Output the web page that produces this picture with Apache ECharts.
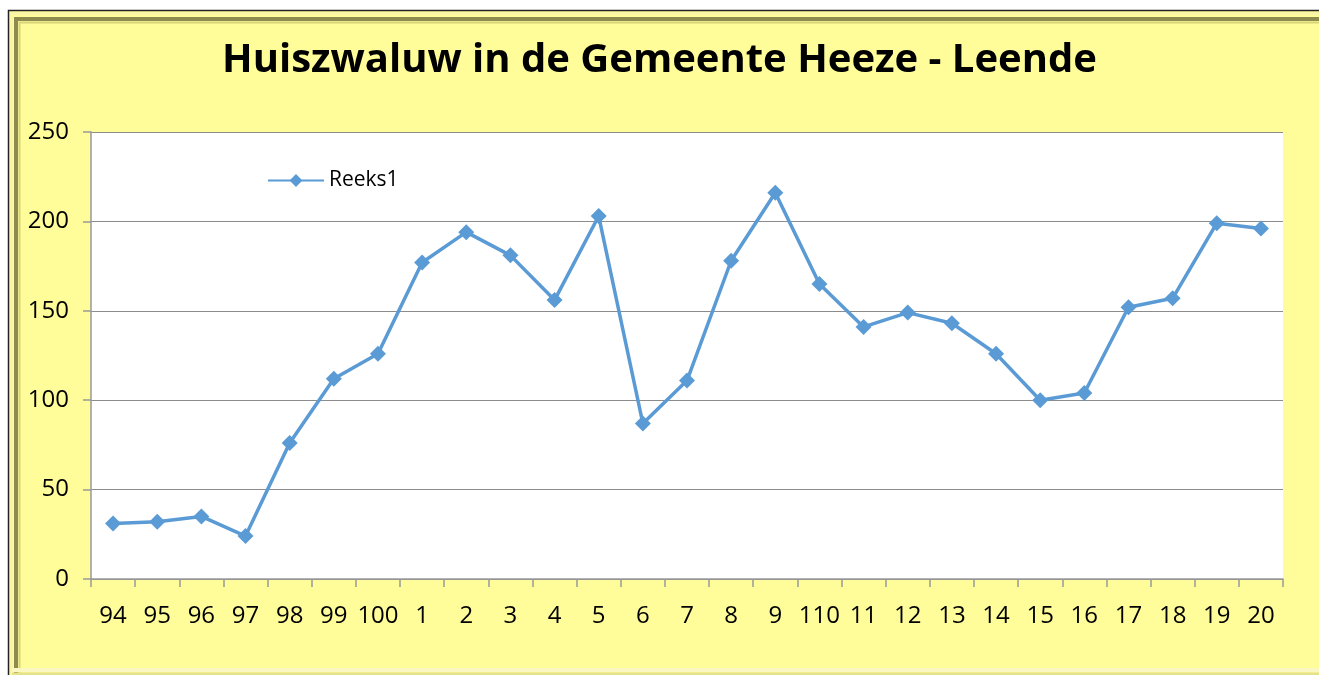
<!DOCTYPE html>
<html><head><meta charset="utf-8">
<script src="https://cdn.jsdelivr.net/npm/echarts@6/dist/echarts.min.js"></script>
<style>html,body{margin:0;padding:0;background:#fff;}#c{width:1319px;height:675px;}</style>
</head><body><div id="c"></div>
<script>
const categories = ['94','95','96','97','98','99','100','1','2','3','4','5','6','7','8','9','110','11','12','13','14','15','16','17','18','19','20'];
const seriesName = 'Reeks1';
const values = [31,32,35,24,76,112,126,177,194,181,156,203,87,111,178,216,165,141,149,143,126,100,104,152,157,199,196];
const yTicks = {min:0, max:250, interval:50};

const chart = echarts.init(document.getElementById('c'));
const font = '"Open Sans", "Noto Sans", sans-serif';
chart.setOption({
  backgroundColor: '#ffffff',
  animation: false,
  graphic: [
    {type:'rect', shape:{x:8.5,y:10.5,width:1330,height:680}, style:{fill:'#fffc9a', stroke:'#222', lineWidth:1.5}, z:-10},
    {type:'rect', shape:{x:11.5,y:13.5,width:1330,height:680}, style:{fill:'none', stroke:'#fbf6a6', lineWidth:3}, z:-9},
    {type:'rect', shape:{x:16,y:19,width:1330,height:680}, style:{fill:'none', stroke:'#8e8b4e', lineWidth:4}, z:-9},
    {type:'rect', shape:{x:19.5,y:22.5,width:1330,height:680}, style:{fill:'none', stroke:'#d8d47a', lineWidth:2}, z:-9},
    {type:'line', shape:{x1:12,y1:670,x2:1319,y2:670}, style:{stroke:'#fbf7c0', lineWidth:4}, z:-8},
    {type:'line', shape:{x1:12,y1:674,x2:1319,y2:674}, style:{stroke:'#e6e28c', lineWidth:3}, z:-8}
  ],
  title: {
    text: 'Huiszwaluw in de Gemeente Heeze - Leende',
    left: 'center', top: 36,
    textStyle: {fontFamily: font, fontWeight: 'bold', fontSize: 40, color: '#000'}
  },
  legend: {
    data: [seriesName], left: 262, top: 165, itemWidth: 56, itemHeight: 16, itemGap: 5,
    textStyle: {fontFamily: font, fontSize: 21, color: '#000'}
  },
  grid: {left: 91, right: 36, top: 132, bottom: 96, containLabel: false,
    show: true, backgroundColor: '#ffffff', borderWidth: 0},
  xAxis: {
    type: 'category', data: categories, boundaryGap: true,
    axisLine: {lineStyle: {color: '#999', width: 1.5}},
    axisTick: {show: true, length: 8, interval: 0, lineStyle: {color: '#999', width: 1.5}},
    axisLabel: {fontFamily: font, fontSize: 24, color: '#000', margin: 25, interval: 0}
  },
  yAxis: {
    type: 'value', min: yTicks.min, max: yTicks.max, interval: yTicks.interval,
    axisLine: {show: true, lineStyle: {color: '#999', width: 1.5}},
    axisTick: {show: true, length: 8, lineStyle: {color: '#999', width: 1.5}},
    splitLine: {lineStyle: {color: '#8c8c8c', width: 1}},
    axisLabel: {fontFamily: font, fontSize: 24, color: '#000', margin: 22}
  },
  series: [{
    name: seriesName, type: 'line', data: values,
    symbol: 'diamond', symbolSize: 16,
    lineStyle: {color: '#5b9bd5', width: 3.5},
    itemStyle: {color: '#5b9bd5'}
  }]
});
</script></body></html>
